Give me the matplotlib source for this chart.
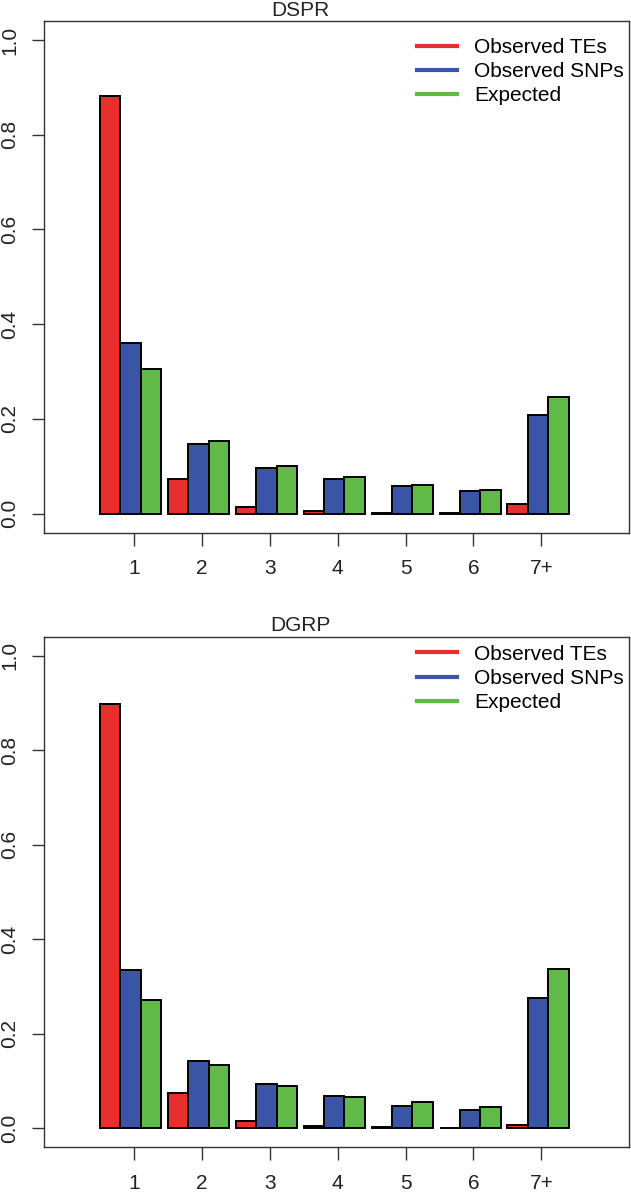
import matplotlib
matplotlib.use("Agg")
import matplotlib.pyplot as plt
import numpy as np

categories = ["1", "2", "3", "4", "5", "6", "7+"]
series_names = ["Observed TEs", "Observed SNPs", "Expected"]

dspr_te = [0.881, 0.074, 0.015, 0.006, 0.002, 0.001, 0.020]
dspr_snp = [0.361, 0.148, 0.096, 0.074, 0.058, 0.049, 0.209]
dspr_exp = [0.306, 0.153, 0.101, 0.077, 0.061, 0.051, 0.246]

dgrp_te = [0.897, 0.074, 0.016, 0.004, 0.002, 0.001, 0.007]
dgrp_snp = [0.336, 0.142, 0.093, 0.068, 0.047, 0.038, 0.276]
dgrp_exp = [0.271, 0.135, 0.090, 0.067, 0.055, 0.045, 0.337]

yticks = [0.0, 0.2, 0.4, 0.6, 0.8, 1.0]
colors = ["#E92E2E", "#3A55A5", "#5FBA47"]

plt.rcParams['font.family'] = ['Liberation Sans', 'DejaVu Sans']
FS = 15

fig = plt.figure(figsize=(6.31, 11.93), dpi=100)
W, H = 631.0, 1193.0

def make_panel(top_px, bot_px, title, te, snp, exp, leg_top_px):
    hpx = bot_px - top_px
    ax = fig.add_axes([44.3 / W, 1 - bot_px / H, (629 - 44.3) / W, hpx / H])
    x = np.arange(len(categories))
    bw = 0.3
    for k, vals in enumerate([te, snp, exp]):
        ax.bar(x + (k - 1) * bw, vals, width=bw, color=colors[k],
               edgecolor='black', linewidth=1.4, label=series_names[k])
    ax.set_xlim(-1.27, 7.34)
    ax.set_ylim(-0.04, 1.04)
    ax.set_xticks(x + 0.05)
    ax.set_xticklabels(categories, fontsize=FS, color='#222222')
    ax.set_yticks(yticks)
    ax.set_yticklabels([f"{v:.1f}" for v in yticks], fontsize=FS, rotation=90,
                       va='center', color='#222222')
    ax.tick_params(axis='x', length=9, width=1, pad=10, colors='#333333',
                   labelcolor='#222222')
    ax.tick_params(axis='y', length=9, width=1, pad=9, colors='#333333',
                   labelcolor='#222222')
    for s in ax.spines.values():
        s.set_linewidth(1.0)
        s.set_color('#333333')
    handles = [plt.Line2D([0], [0], color=c, lw=3) for c in colors]
    ax.legend(handles, series_names, loc='upper left',
              bbox_to_anchor=((416.5 - 44.3) / (629 - 44.3), 1 - leg_top_px / hpx),
              frameon=False, fontsize=FS, handlelength=1.95, handletextpad=0.8,
              labelspacing=0.25, borderpad=0, borderaxespad=0)
    fig.text(300 / W, 1 - (top_px - 11) / H, title, ha='center', va='center',
             fontsize=FS, color='#222222')
    return ax

make_panel(21, 532.7, "DSPR", dspr_te, dspr_snp, dspr_exp, 17)
make_panel(636.7, 1147.3, "DGRP", dgrp_te, dgrp_snp, dgrp_exp, 8)

fig.savefig("out.png", dpi=100)
